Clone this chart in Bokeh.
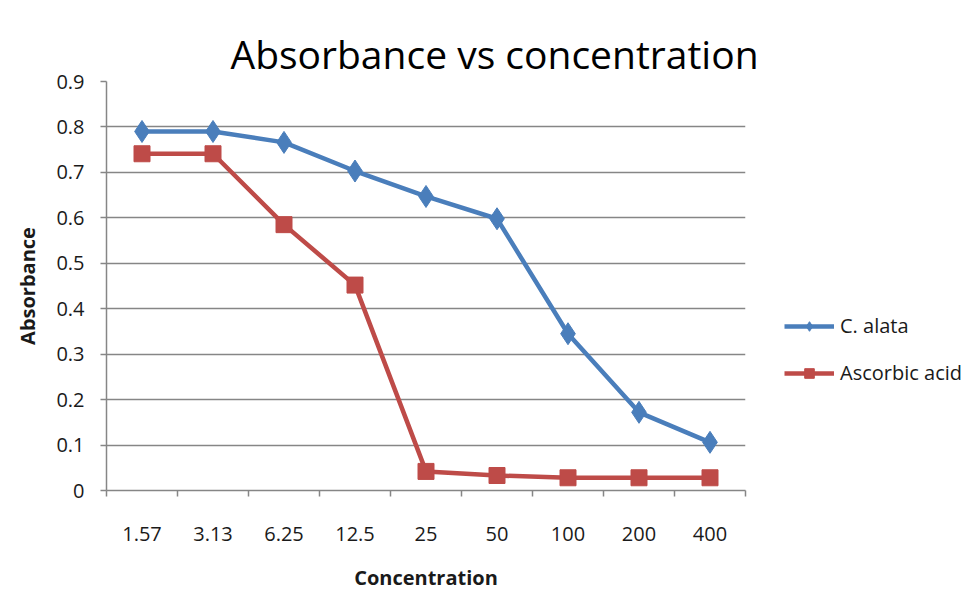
from bokeh.plotting import figure
from bokeh.models import FixedTicker, Legend, LegendItem, Title, Range1d, ColumnDataSource
from bokeh.embed import file_html
from bokeh.resources import INLINE

categories = ["1.57", "3.13", "6.25", "12.5", "25", "50", "100", "200", "400"]
c_alata = [0.79, 0.79, 0.766, 0.703, 0.647, 0.598, 0.345, 0.172, 0.106]
ascorbic = [0.741, 0.741, 0.585, 0.452, 0.042, 0.033, 0.028, 0.028, 0.028]
y_ticks = [0, 0.1, 0.2, 0.3, 0.4, 0.5, 0.6, 0.7, 0.8, 0.9]

xpos = [i + 0.5 for i in range(len(categories))]
src = ColumnDataSource(dict(x=xpos, a=c_alata, b=ascorbic))

FONT = "Open Sans"
BLUE = "#4a7ebb"
RED = "#be4b48"

p = figure(frame_width=639, frame_height=409, output_backend="svg", toolbar_location=None,
           x_range=Range1d(0, len(categories)), y_range=Range1d(0, 0.9))
p.min_border_left = 106
p.min_border_right = 230
p.min_border_top = 81
p.min_border_bottom = 102
p.outline_line_color = None
p.background_fill_color = "white"
p.border_fill_color = "white"

p.title = Title(text="Absorbance vs concentration", align="left", offset=124,
                text_font=FONT, text_font_size="39px", text_font_style="normal",
                text_color="#000000", standoff=0, vertical_align="top")

# x axis
p.xaxis.ticker = FixedTicker(ticks=xpos, minor_ticks=list(range(len(categories) + 1)))
p.xaxis.major_label_overrides = {x: c for x, c in zip(xpos, categories)}
p.xaxis.major_tick_out = 0
p.xaxis.major_tick_in = 0
p.xaxis.minor_tick_out = 6
p.xaxis.minor_tick_in = 0
p.xaxis.minor_tick_line_color = "#868686"
p.xaxis.minor_tick_line_width = 1.5
p.xaxis.axis_line_color = "#868686"
p.xaxis.axis_line_width = 1.5
p.xaxis.major_label_standoff = 30
p.xaxis.major_label_text_font = FONT
p.xaxis.major_label_text_font_size = "20px"
p.xaxis.major_label_text_color = "#1a1a1a"
p.xaxis.axis_label = "Concentration"
p.xaxis.axis_label_text_font = FONT
p.xaxis.axis_label_text_font_style = "bold"
p.xaxis.axis_label_text_font_size = "20px"
p.xaxis.axis_label_text_color = "#1a1a1a"
p.xaxis.axis_label_standoff = 20
p.xgrid.visible = False

# y axis
p.yaxis.ticker = FixedTicker(ticks=y_ticks, minor_ticks=[])
p.yaxis.major_label_overrides = {0: "0"}
p.yaxis.major_tick_out = 6
p.yaxis.major_tick_in = 0
p.yaxis.major_tick_line_color = "#868686"
p.yaxis.major_tick_line_width = 1.5
p.yaxis.axis_line_color = "#868686"
p.yaxis.axis_line_width = 1.5
p.yaxis.major_label_standoff = 16
p.yaxis.major_label_text_font = FONT
p.yaxis.major_label_text_font_size = "20px"
p.yaxis.major_label_text_color = "#1a1a1a"
p.yaxis.axis_label = "Absorbance"
p.yaxis.axis_label_text_font = FONT
p.yaxis.axis_label_text_font_style = "bold"
p.yaxis.axis_label_text_font_size = "20px"
p.yaxis.axis_label_text_color = "#1a1a1a"
p.yaxis.axis_label_standoff = 12
p.ygrid.grid_line_color = "#868686"
p.ygrid.grid_line_width = 1.5

la = p.line("x", "a", source=src, line_color=BLUE, line_width=4.5)
ma = p.scatter("x", "a", source=src, marker="diamond", size=22, fill_color=BLUE, line_color=BLUE)
lb = p.line("x", "b", source=src, line_color=RED, line_width=4.5)
mb = p.scatter("x", "b", source=src, marker="square", size=16, fill_color=RED, line_color=RED)

legend = Legend(items=[LegendItem(label="C. alata", renderers=[la, ma]),
                       LegendItem(label="Ascorbic acid", renderers=[lb, mb])],
                location=(39, 104))
legend.border_line_color = None
legend.background_fill_alpha = 0
legend.label_text_font = FONT
legend.label_text_font_size = "20px"
legend.label_text_color = "#1a1a1a"
legend.glyph_width = 50
legend.glyph_height = 24
legend.label_standoff = 6
legend.spacing = 20
legend.padding = 5
legend.margin = 0
p.add_layout(legend, "right")

open("out.html", "w").write(file_html(p, INLINE))
